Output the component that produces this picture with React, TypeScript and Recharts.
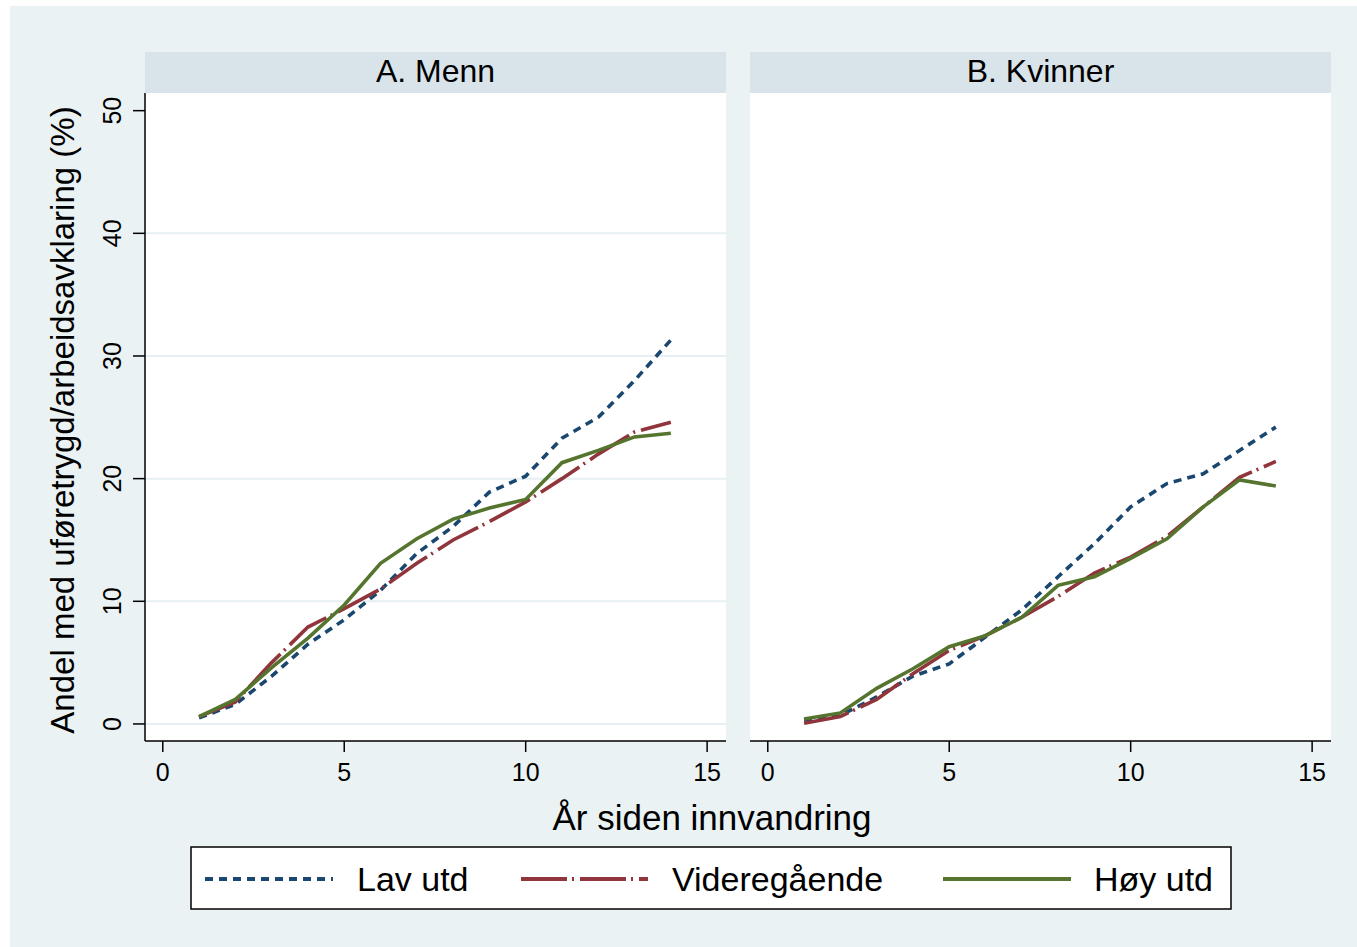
import React from 'react';
import { LineChart, Line, XAxis, YAxis, CartesianGrid } from 'recharts';

const years = [1, 2, 3, 4, 5, 6, 7, 8, 9, 10, 11, 12, 13, 14];
const menLav = [0.5, 1.6, 3.9, 6.5, 8.5, 10.9, 13.9, 16.1, 18.9, 20.2, 23.3, 25.0, 28.0, 31.3];
const menVid = [0.6, 1.8, 5.0, 7.9, 9.4, 11.0, 13.1, 15.0, 16.5, 18.1, 20.0, 22.0, 23.8, 24.6];
const menHoy = [0.6, 2.0, 4.6, 7.0, 9.7, 13.1, 15.1, 16.7, 17.6, 18.3, 21.3, 22.3, 23.4, 23.7];
const womenLav = [0.3, 0.7, 2.2, 3.9, 4.9, 7.1, 9.3, 12.0, 14.7, 17.7, 19.6, 20.4, 22.3, 24.2];
const womenVid = [0.05, 0.6, 2.0, 4.1, 6.0, 7.2, 8.7, 10.4, 12.3, 13.6, 15.3, 17.7, 20.1, 21.4];
const womenHoy = [0.4, 0.9, 2.9, 4.5, 6.3, 7.2, 8.7, 11.3, 12.0, 13.5, 15.1, 17.7, 19.9, 19.4];

const xTicks = [0, 5, 10, 15];
const yTicks = [0, 10, 20, 30, 40, 50];
const gridValues = [0, 10, 20, 30, 40];
const panelTitles = ['A. Menn', 'B. Kvinner'];
const seriesNames = ['Lav utd', 'Videregående', 'Høy utd'];
const xTitle = 'År siden innvandring';
const yTitle = 'Andel med uføretrygd/arbeidsavklaring (%)';

const COLORS = ['#1a476f', '#90353b', '#55752f'];
const DASHES = ['8 6', '46 5 2 6', undefined];
const FONT = '"Liberation Sans", Arial, Helvetica, sans-serif';
const GRID = '#e6eff1';

const menData = years.map((y, i) => ({ year: y, lav: menLav[i], vid: menVid[i], hoy: menHoy[i] }));
const womenData = years.map((y, i) => ({ year: y, lav: womenLav[i], vid: womenVid[i], hoy: womenHoy[i] }));

const X_DOMAIN: [number, number] = [-0.49, 15.52];
const Y_DOMAIN: [number, number] = [-1.39, 51.44];

const XTick = (props: any) => {
  const { x, y, payload } = props;
  return (
    <text x={x} y={y} dy={29} textAnchor="middle" fontSize={25} fontFamily={FONT} fill="#000">
      {payload.value}
    </text>
  );
};

const YTick = (props: any) => {
  const { y, payload } = props;
  const cx = 112;
  return (
    <text
      x={cx}
      y={y}
      transform={`rotate(-90, ${cx}, ${y})`}
      textAnchor="middle"
      dy={9}
      fontSize={25}
      fontFamily={FONT}
      fill="#000"
    >
      {payload.value}
    </text>
  );
};

const keys = ['lav', 'vid', 'hoy'];

function Panel({ data, showY, width, margin }: any) {
  return (
    <LineChart width={width} height={800} data={data} margin={margin}>
      <CartesianGrid
        horizontal
        vertical={false}
        stroke={GRID}
        strokeWidth={2}
        fill="#ffffff"
        horizontalValues={gridValues}
      />
      <XAxis
        dataKey="year"
        type="number"
        domain={X_DOMAIN}
        ticks={xTicks}
        allowDataOverflow
        height={50}
        tickSize={11}
        tickMargin={0}
        axisLine={{ stroke: '#000', strokeWidth: 1.5 }}
        tickLine={{ stroke: '#000', strokeWidth: 1.5 }}
        tick={XTick}
        interval={0}
      />
      <YAxis
        type="number"
        domain={Y_DOMAIN}
        ticks={yTicks}
        allowDataOverflow
        width={showY ? 45 : 0}
        tickSize={showY ? 12 : 0}
        tickMargin={0}
        axisLine={showY ? { stroke: '#000', strokeWidth: 1.5 } : false}
        tickLine={showY ? { stroke: '#000', strokeWidth: 1.5 } : false}
        tick={showY ? YTick : false}
        interval={0}
      />
      {keys.map((k, i) => (
        <Line
          key={k}
          type="linear"
          dataKey={k}
          stroke={COLORS[i]}
          strokeWidth={3.6}
          strokeDasharray={DASHES[i]}
          dot={false}
          activeDot={false}
          isAnimationActive={false}
        />
      ))}
    </LineChart>
  );
}

export default function App() {
  const legendItems = [
    { line: [205, 333], text: 357 },
    { line: [521, 648], text: 672 },
    { line: [943, 1071], text: 1094 },
  ];
  return (
    <div style={{ position: 'absolute', left: 0, top: 0, width: 1357, height: 947, background: '#ffffff', overflow: 'hidden' }}>
      <div style={{ position: 'absolute', left: 10, top: 6, width: 1347, height: 941, background: '#eaf2f3' }} />
      <div style={{ position: 'absolute', left: 0, top: 0 }}>
        <Panel data={menData} showY width={740} margin={{ top: 93, right: 14, bottom: 9, left: 100 }} />
      </div>
      <div style={{ position: 'absolute', left: 740, top: 0 }}>
        <Panel data={womenData} showY={false} width={617} margin={{ top: 93, right: 26, bottom: 9, left: 10 }} />
      </div>
      <svg
        width={1357}
        height={947}
        style={{ position: 'absolute', left: 0, top: 0, pointerEvents: 'none' }}
        fontFamily={FONT}
      >
        <rect x={145} y={52} width={581} height={41} fill="#d9e4ea" />
        <rect x={750} y={52} width={581} height={41} fill="#d9e4ea" />
        <text x={435.5} y={82} textAnchor="middle" fontSize={32} fill="#000">{panelTitles[0]}</text>
        <text x={1040.5} y={82} textAnchor="middle" fontSize={32} fill="#000">{panelTitles[1]}</text>
        <text x={712} y={830} textAnchor="middle" fontSize={35} fill="#000">{xTitle}</text>
        <text
          x={62}
          y={420}
          transform="rotate(-90, 62, 420)"
          textAnchor="middle"
          dy={12}
          fontSize={33}
          fill="#000"
        >
          {yTitle}
        </text>
        <rect x={191} y={847} width={1040} height={62} fill="#ffffff" stroke="#000" strokeWidth={1.5} />
        {legendItems.map((it, i) => (
          <g key={i}>
            <line
              x1={it.line[0]}
              x2={it.line[1]}
              y1={879}
              y2={879}
              stroke={COLORS[i]}
              strokeWidth={4}
              strokeDasharray={DASHES[i]}
            />
            <text x={it.text} y={891} fontSize={34} fill="#000">{seriesNames[i]}</text>
          </g>
        ))}
      </svg>
    </div>
  );
}
